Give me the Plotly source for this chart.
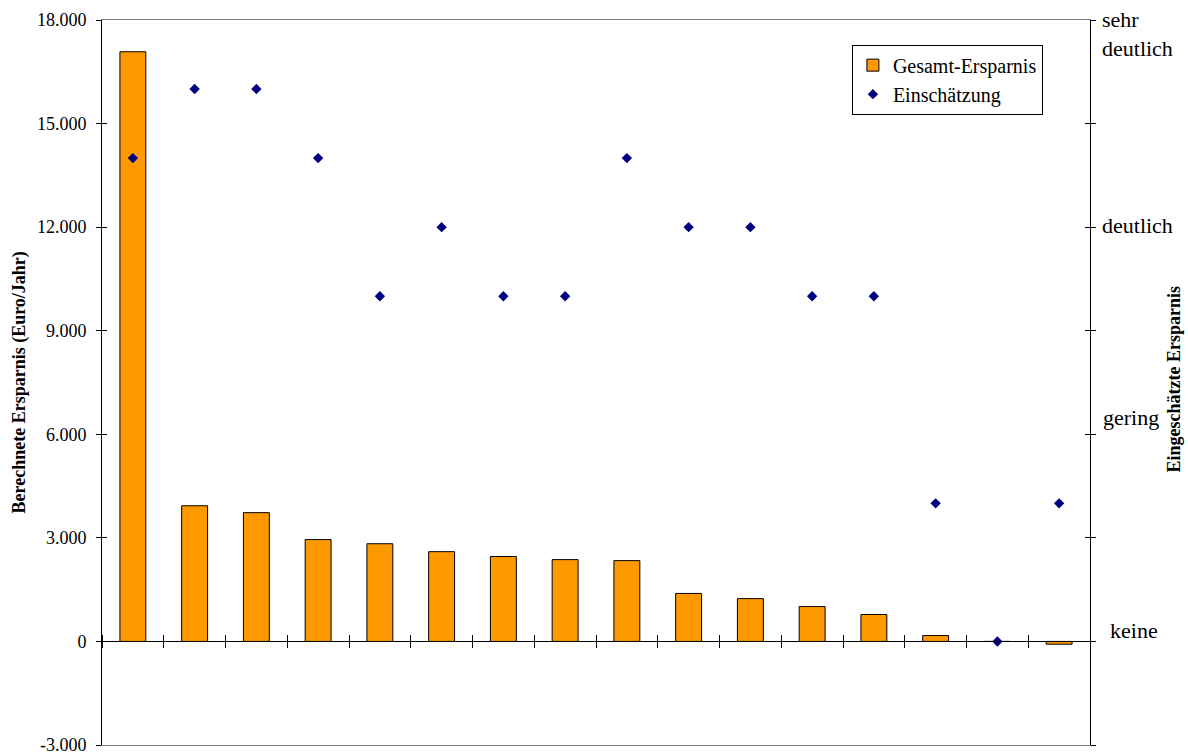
import plotly.graph_objects as go

# Sixteen measures, sorted by calculated annual savings
categories = [str(i) for i in range(1, 17)]
savings = [17080, 3930, 3730, 2950, 2830, 2600, 2460, 2370, 2340,
           1390, 1240, 1010, 780, 170, 0, -80]
# Estimated savings on a 0..9 scale (0 = keine, 3 = gering, 6 = deutlich, 9 = sehr deutlich)
estimate = [7, 8, 8, 7, 5, 6, 5, 5, 7, 6, 6, 5, 5, 2, 0, 2]

y_tick_vals = [-3000, 0, 3000, 6000, 9000, 12000, 15000, 18000]
y_tick_text = ["-3.000", "0", "3.000", "6.000", "9.000", "12.000", "15.000", "18.000"]
rating_levels = [9, 6, 3, 0]
rating_labels = ["sehr<br>deutlich", "deutlich", "gering", "keine"]

Y_RANGE = [-3000, 18000]
Y2_RANGE = [-1.5, 9]
FONT = "Liberation Serif, Times New Roman, serif"

n = len(categories)
idx = list(range(n))
x_range = [-0.5, n - 0.5]
zero_pos = (0 - Y_RANGE[0]) / (Y_RANGE[1] - Y_RANGE[0])

fig = go.Figure()
fig.add_trace(go.Bar(
    x=categories, y=savings, name="Gesamt-Ersparnis",
    marker=dict(color="#FF9900", line=dict(color="#000000", width=1)),
    xaxis="x", yaxis="y",
))
fig.add_trace(go.Scatter(
    x=categories, y=estimate, name="Einschätzung", mode="markers",
    marker=dict(symbol="diamond", size=8, color="#000080"),
    xaxis="x", yaxis="y2",
))
# transparent carriers so the overlay axes (zero line, cross ticks) get drawn
for xa in ("x2", "x3"):
    fig.add_trace(go.Scatter(
        x=idx, y=savings, mode="markers", marker=dict(opacity=0),
        showlegend=False, hoverinfo="skip", xaxis=xa, yaxis="y3",
    ))

# right-hand rating labels, each nudged like the original layout
label_offsets = [(10, -14), (10, 2), (11, 17), (18, 11)]
annotations = []
for lvl, txt, (dx, dy) in zip(rating_levels, rating_labels, label_offsets):
    annotations.append(dict(
        x=1, xref="paper", y=lvl, yref="y2", text=txt, showarrow=False,
        xanchor="left", yanchor="middle", align="left",
        xshift=dx, yshift=dy, font=dict(family=FONT, size=22, color="black"),
    ))
annotations.append(dict(
    x=0, xref="paper", y=0.5, yref="paper", xshift=-83,
    text="<b>Berechnete Ersparnis (Euro/Jahr)</b>", textangle=-90, showarrow=False,
    xanchor="center", yanchor="middle", font=dict(family=FONT, size=18, color="black"),
))
annotations.append(dict(
    x=1, xref="paper", y=0.5, yref="paper", xshift=83, yshift=3,
    text="<b>Eingeschätzte Ersparnis</b>", textangle=-90, showarrow=False,
    xanchor="center", yanchor="middle", font=dict(family=FONT, size=18, color="black"),
))

fig.update_layout(
    width=1188, height=756,
    margin=dict(l=102, r=98, t=20, b=11, autoexpand=False),
    paper_bgcolor="white", plot_bgcolor="white",
    font=dict(family=FONT, size=18, color="black"),
    bargap=0.58,
    showlegend=True,
    legend=dict(
        x=0.759, y=0.966, xanchor="left", yanchor="top",
        bgcolor="white", bordercolor="black", borderwidth=1,
        font=dict(family=FONT, size=20, color="black"),
        itemwidth=30, tracegroupgap=0,
    ),
    annotations=annotations,
    xaxis=dict(
        type="category", range=x_range, showticklabels=False, ticks="",
        showline=True, linecolor="#808080", linewidth=1, mirror=True,
        showgrid=False, zeroline=False, automargin=False,
    ),
    # zero line with cross ticks between categories
    xaxis2=dict(
        overlaying="x", anchor="free", position=zero_pos, side="bottom",
        range=x_range, tick0=0.5, dtick=1, ticks="outside", ticklen=6,
        tickcolor="black", showticklabels=False, showline=True,
        linecolor="black", linewidth=1, showgrid=False, zeroline=False,
        automargin=False,
    ),
    xaxis3=dict(
        overlaying="x", anchor="free", position=zero_pos, side="top",
        range=x_range, tick0=0.5, dtick=1, ticks="outside", ticklen=6,
        tickcolor="black", showticklabels=False, showline=False,
        showgrid=False, zeroline=False, automargin=False,
    ),
    yaxis=dict(
        range=Y_RANGE, tickvals=y_tick_vals, ticktext=y_tick_text,
        ticks="outside", ticklen=5, tickcolor="black",
        showline=True, linecolor="black", linewidth=1,
        showgrid=False, zeroline=False, ticklabelstandoff=6,
        ticklabeloverflow="allow", automargin=False,
        tickfont=dict(family=FONT, size=18, color="black"),
    ),
    yaxis2=dict(
        overlaying="y", side="right", range=Y2_RANGE, tick0=-1.5, dtick=1.5,
        ticks="outside", ticklen=5, tickcolor="black", showticklabels=False,
        showline=True, linecolor="black", linewidth=1,
        showgrid=False, zeroline=False, automargin=False,
    ),
    yaxis3=dict(
        overlaying="y", side="left", range=Y_RANGE, tickvals=y_tick_vals,
        ticks="inside", ticklen=5, tickcolor="black", mirror="allticks",
        showticklabels=False, showline=False, showgrid=False, zeroline=False,
        automargin=False,
    ),
)

fig.write_html("out.html")
